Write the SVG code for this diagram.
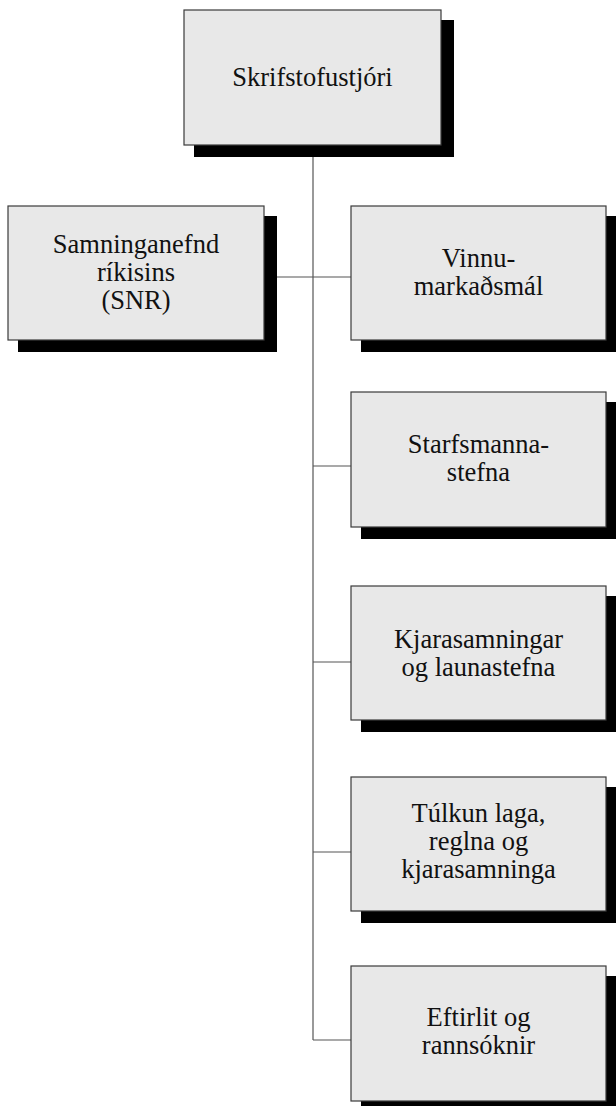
<svg xmlns="http://www.w3.org/2000/svg" width="616" height="1106" viewBox="0 0 616 1106">
<style>
.box{fill:#e8e8e8;stroke:#3a3a3a;stroke-width:1.2}
.sh{fill:#000}
.t{font-family:"Liberation Serif","Times New Roman",serif;font-size:26.5px;fill:#111;text-anchor:middle}
.c{stroke:#555;stroke-width:1.2;fill:none}
</style>
<rect width="616" height="1106" fill="#fff"/>
<g id="connectors">
<line class="c" x1="313" y1="145" x2="313" y2="1040"/>
<line class="c" x1="264" y1="277" x2="351" y2="277"/>
<line class="c" x1="313" y1="466" x2="351" y2="466"/>
<line class="c" x1="313" y1="662" x2="351" y2="662"/>
<line class="c" x1="313" y1="852" x2="351" y2="852"/>
<line class="c" x1="313" y1="1040" x2="351" y2="1040"/>
</g>
<g id="skrifstofustjori">
<rect class="sh" x="194" y="20" width="260" height="137"/>
<rect class="box" x="184" y="10" width="257" height="135"/>
<text class="t" x="312.5" y="85.5">Skrifstofustjóri</text>
</g>
<g id="snr">
<rect class="sh" x="18" y="216" width="259" height="136"/>
<rect class="box" x="8" y="206" width="256" height="134"/>
<text class="t" x="136" y="253">Samninganefnd</text>
<text class="t" x="136" y="281">ríkisins</text>
<text class="t" x="136" y="309">(SNR)</text>
</g>
<g id="vinnumarkadsmal">
<rect class="sh" x="361" y="216" width="258" height="136"/>
<rect class="box" x="351" y="206" width="255" height="134"/>
<text class="t" x="478.5" y="267">Vinnu-</text>
<text class="t" x="478.5" y="295">markaðsmál</text>
</g>
<g id="starfsmannastefna">
<rect class="sh" x="361" y="402" width="258" height="137"/>
<rect class="box" x="351" y="392" width="255" height="135"/>
<text class="t" x="478.5" y="453">Starfsmanna-</text>
<text class="t" x="478.5" y="481">stefna</text>
</g>
<g id="kjarasamningar">
<rect class="sh" x="361" y="596" width="258" height="136"/>
<rect class="box" x="351" y="586" width="255" height="134"/>
<text class="t" x="478.5" y="648">Kjarasamningar</text>
<text class="t" x="478.5" y="676">og launastefna</text>
</g>
<g id="tulkun">
<rect class="sh" x="361" y="787" width="258" height="136"/>
<rect class="box" x="351" y="777" width="255" height="134"/>
<text class="t" x="478.5" y="822">Túlkun laga,</text>
<text class="t" x="478.5" y="850">reglna og</text>
<text class="t" x="478.5" y="878">kjarasamninga</text>
</g>
<g id="eftirlit">
<rect class="sh" x="361" y="976" width="258" height="137"/>
<rect class="box" x="351" y="966" width="255" height="135"/>
<text class="t" x="478.5" y="1026">Eftirlit og</text>
<text class="t" x="478.5" y="1054">rannsóknir</text>
</g>
</svg>
